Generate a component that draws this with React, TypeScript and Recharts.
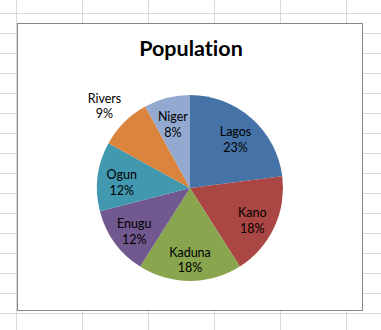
import React from "react";
import { PieChart, Pie, Cell } from "recharts";

const states = ["Lagos", "Kano", "Kaduna", "Enugu", "Ogun", "Rivers", "Niger"];
const shares = [23, 18, 18, 12, 12, 9, 8];
const colors = ["#4572A7", "#AA4643", "#89A54E", "#71588F", "#4198AF", "#DB843D", "#93A9CF"];
const outsideLabels = ["Rivers"];

const data = states.map((name, i) => ({ name, value: shares[i] }));

const W = 381;
const H = 330;
const gridX = [16, 82, 148, 214, 280, 346];
const gridY = Array.from({ length: 16 }, (_, i) => 13 + i * 20);

const RAD = Math.PI / 180;
const FONT = "Lato, 'Open Sans', sans-serif";

const renderLabel = (props: any) => {
  const { cx, cy, midAngle, outerRadius, name, percent } = props;
  const outside = outsideLabels.includes(name);
  const r = outside ? outerRadius * 1.3 : outerRadius * 0.74;
  const x = cx + r * Math.cos(-midAngle * RAD);
  const y = cy + r * Math.sin(-midAngle * RAD);
  return (
    <text
      x={x}
      y={y}
      textAnchor="middle"
      fill="#000"
      fontFamily={FONT}
      fontSize={12.5}
    >
      <tspan x={x} dy="0">{name}</tspan>
      <tspan x={x} dy="1.22em">{Math.round(percent * 100)}%</tspan>
    </text>
  );
};

export default function App() {
  return (
    <div style={{ position: "absolute", left: 0, top: 0, width: W, height: H, background: "#fff", overflow: "hidden" }}>
      <svg width={W} height={H} style={{ position: "absolute", left: 0, top: 0 }}>
        {gridX.map((x) => (
          <line key={"x" + x} x1={x + 0.5} x2={x + 0.5} y1={0} y2={H} stroke="#d9d9d9" strokeWidth={1} />
        ))}
        {gridY.map((y) => (
          <line key={"y" + y} x1={0} x2={W} y1={y + 0.5} y2={y + 0.5} stroke="#d9d9d9" strokeWidth={1} />
        ))}
        <rect x={17.5} y={23.5} width={345} height={287} fill="#fff" stroke="#868686" strokeWidth={1} />
        <text
          x={191}
          y={56}
          textAnchor="middle"
          fontFamily={FONT}
          fontWeight="bold"
          fontSize={21.5}
          fill="#000"
          style={{ fontVariantLigatures: "none" }}
        >
          Population
        </text>
      </svg>
      <div style={{ position: "absolute", left: 0, top: 0 }}>
        <PieChart width={W} height={H} margin={{ top: 0, right: 0, bottom: 0, left: 0 }}>
          <Pie
            data={data}
            dataKey="value"
            nameKey="name"
            cx={190}
            cy={188}
            outerRadius={93}
            startAngle={90}
            endAngle={-270}
            stroke="none"
            labelLine={false}
            label={renderLabel}
            isAnimationActive={false}
          >
            {data.map((d, i) => (
              <Cell key={d.name} fill={colors[i]} />
            ))}
          </Pie>
        </PieChart>
      </div>
    </div>
  );
}
